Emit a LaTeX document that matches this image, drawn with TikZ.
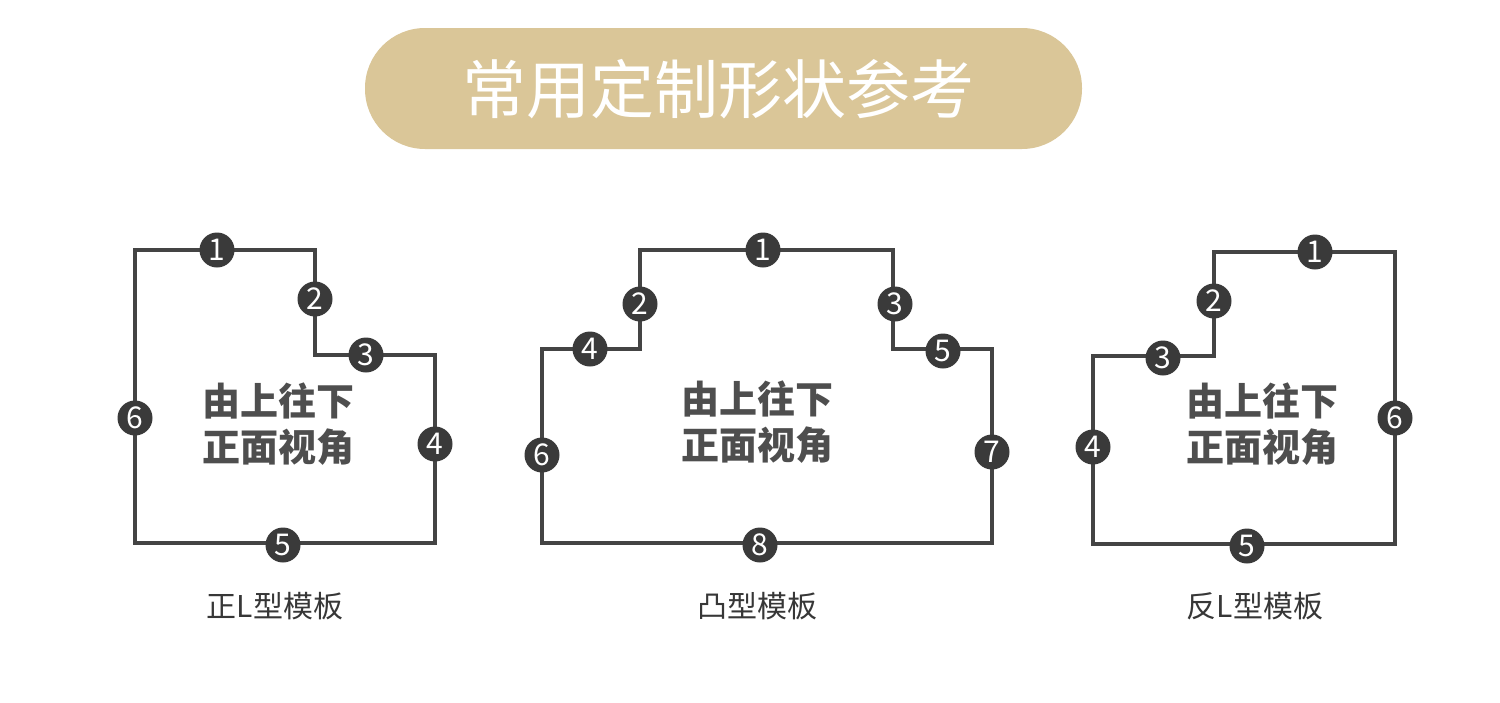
\documentclass[tikz,border=0pt]{standalone}
\usepackage{fontspec}
\setmainfont{Noto Sans CJK SC}
\definecolor{bannertan}{RGB}{218,198,152}
\definecolor{outlinegrey}{RGB}{68,68,68}
\definecolor{dotgrey}{RGB}{58,58,58}
\definecolor{textgrey}{RGB}{78,78,78}
\definecolor{captiongrey}{RGB}{55,55,55}
\tikzset{
  shapeline/.style={draw=outlinegrey, line width=2pt, line join=miter},
  edgept/.style={circle, fill=dotgrey, minimum size=17.5pt, inner sep=0pt,
    text=white, font=\fontsize{15}{15}\selectfont},
  viewtext/.style={text=textgrey, font=\fontsize{19}{23}\selectfont\bfseries, align=center},
  caption/.style={text=captiongrey, font=\fontsize{15}{15}\selectfont}
}
\begin{document}
\begin{tikzpicture}[x=0.5pt,y=-0.5pt]
  \useasboundingbox (0,0) rectangle (1500,702);
  % banner
  \fill[bannertan, rounded corners=30pt] (365,28) rectangle (1082,149);
  \node[text=white, font=\fontsize{32}{32}\selectfont] (title) at (718,89) {常用定制形状参考};

  % 正L型
  \coordinate (la) at (135,250);
  \coordinate (lb) at (315,250);
  \coordinate (lc) at (315,355);
  \coordinate (ld) at (435,355);
  \coordinate (le) at (435,543);
  \coordinate (lf) at (135,543);
  \draw[shapeline] (la) -- (lb) -- (lc) -- (ld) -- (le) -- (lf) -- cycle;
  \node[edgept] (a1) at (217,250) {1};
  \node[edgept] (a2) at (315,299) {2};
  \node[edgept] (a3) at (366,355) {3};
  \node[edgept] (a4) at (435,444) {4};
  \node[edgept] (a5) at (283,545) {5};
  \node[edgept] (a6) at (135,418) {6};
  \node[viewtext] (aview) at (278,424) {由上往下\\正面视角};
  \node[caption] (acap) at (275,606) {正L型模板};

  % 凸型
  \coordinate (ma) at (640,250);
  \coordinate (mb) at (893,250);
  \coordinate (mc) at (893,349);
  \coordinate (md) at (992,349);
  \coordinate (me) at (992,543);
  \coordinate (mf) at (542,543);
  \coordinate (mg) at (542,349);
  \coordinate (mh) at (640,349);
  \draw[shapeline] (ma) -- (mb) -- (mc) -- (md) -- (me) -- (mf) -- (mg) -- (mh) -- cycle;
  \node[edgept] (b1) at (763,250) {1};
  \node[edgept] (b2) at (640,304) {2};
  \node[edgept] (b3) at (895,304) {3};
  \node[edgept] (b4) at (590,349) {4};
  \node[edgept] (b5) at (943,351) {5};
  \node[edgept] (b6) at (542,455) {6};
  \node[edgept] (b7) at (992,452) {7};
  \node[edgept] (b8) at (760,545) {8};
  \node[viewtext] (bview) at (757,422) {由上往下\\正面视角};
  \node[caption] (bcap) at (757,606) {凸型模板};

  % 反L型
  \coordinate (ra) at (1214,252);
  \coordinate (rb) at (1395,252);
  \coordinate (rc) at (1395,544);
  \coordinate (rd) at (1093,544);
  \coordinate (re) at (1093,356);
  \coordinate (rf) at (1214,356);
  \draw[shapeline] (ra) -- (rb) -- (rc) -- (rd) -- (re) -- (rf) -- cycle;
  \node[edgept] (c1) at (1315,252) {1};
  \node[edgept] (c2) at (1214,301) {2};
  \node[edgept] (c3) at (1163,358) {3};
  \node[edgept] (c4) at (1093,447) {4};
  \node[edgept] (c5) at (1247,546) {5};
  \node[edgept] (c6) at (1395,418) {6};
  \node[viewtext] (cview) at (1262,424) {由上往下\\正面视角};
  \node[caption] (ccap) at (1255,606) {反L型模板};
\end{tikzpicture}
\end{document}
